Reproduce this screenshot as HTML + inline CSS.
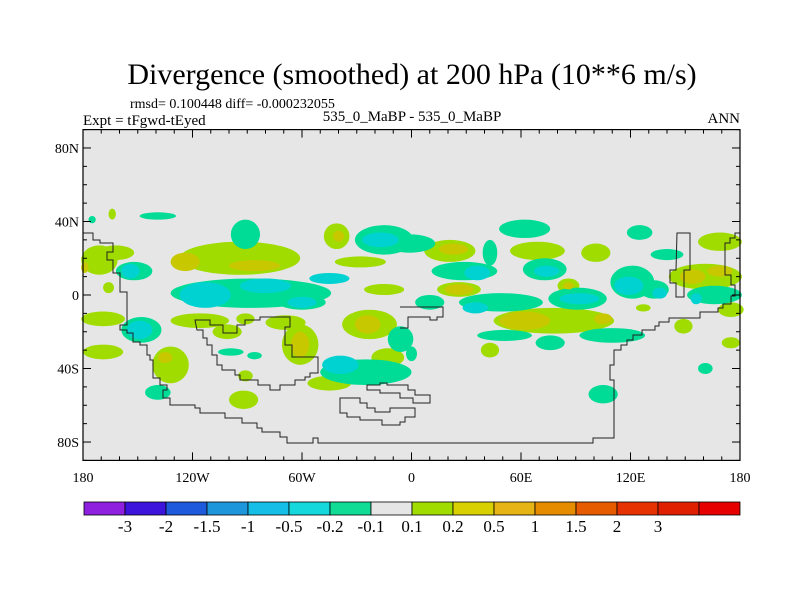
<!DOCTYPE html>
<html><head><meta charset="utf-8"><style>
html,body{margin:0;padding:0;background:#fff;}
svg{display:block;font-family:"Liberation Serif",serif;}
</style></head><body>
<svg id="chart" width="800" height="600" viewBox="0 0 800 600">
<text x="412" y="84" font-size="30" text-anchor="middle">Divergence (smoothed) at 200 hPa (10**6 m/s)</text>
<text x="130" y="108" font-size="14">rmsd= 0.100448 diff= -0.000232055</text>
<text x="83" y="125" font-size="15">Expt = tFgwd-tEyed</text>
<text x="412" y="121" font-size="15" text-anchor="middle">535_0_MaBP - 535_0_MaBP</text>
<text x="740" y="123" font-size="15" text-anchor="end">ANN</text>
<rect x="83" y="129.6" width="657" height="330.8" fill="#e6e6e6"/>
<g id="blobs"></g>
<g fill="none" stroke="#222" stroke-width="1">
<polyline points="83,233 93,233 93,240 100,240 100,243 113,243 113,252 107,252 107,260 113,260 113,273 120,273 120,292 127,292 127,325 120,325 120,330 127,330 127,333 133,333 133,342 140,342 140,345 147,345 147,355 150,355 150,360 153,360 153,378 160,378 160,385 167,385 167,390 163,390 163,398 170,398 170,405 195,405 195,408 200,408 200,413 225,413 225,418 242,418 242,423 257,423 257,428 262,428 262,432 280,432 280,437 287,437 287,443 313,443 313,438 318,438 318,443 593,443 593,438 614,438 614,380 610,380 610,365 614,365 614,350 621,350 621,345 627,345 627,340 633,340 633,335 642,335 642,330 655,330 655,326 659,326 659,322 669,322 669,318 700,318 700,312 718,312 718,308 723,308 723,304 731,304 731,296 735,296 735,285 731,285 731,275 725,275 725,243 730,243 730,238 735,238 735,233 740,233"/>
<polygon points="677,233 690,233 690,270 684,270 684,297 676,297 676,283 670,283 670,270 676,270"/>
<polygon points="195,320 210,320 210,325 223,325 223,333 237,333 237,325 245,325 245,320 260,320 260,317 290,317 290,327 285,327 285,345 292,345 292,357 318,357 318,373 310,373 310,377 305,377 305,380 295,380 295,385 280,385 280,390 270,390 270,385 258,385 258,380 240,380 240,375 235,375 235,370 222,370 222,365 217,365 217,355 212,355 212,345 207,345 207,338 203,338 203,330 197,330"/>
<polyline points="400,307 443,307 443,317 437,317 437,320 430,320 430,317 408,317 408,328 400,328"/>
<polygon points="367,385 380,385 380,383 387,383 387,385 408,385 408,390 415,390 415,395 430,395 430,403 413,403 413,398 400,398 400,393 380,393 380,390 367,390"/>
<polygon points="340,398 360,398 360,403 367,403 367,408 375,408 375,412 390,412 390,408 415,408 415,417 405,417 405,422 400,422 400,425 382,425 382,420 360,420 360,417 347,417 347,413 340,413"/>
</g>
<rect x="83" y="129.6" width="657" height="330.8" fill="none" stroke="#000" stroke-width="1.2"/>
<g id="ticks" stroke="#000" stroke-width="1"></g>
<g id="labels" font-size="14"></g>
<g id="colorbar"></g>
</svg>
<script>
// blobs: lon, lat, lon-radius, lat-radius
const greenLon=[-94,-41,-28,-15,-80,-171,-162,-166,-169,-116,-101,-91,-69,-61,-23,-13,-45,-92,-91,-132,-169,-164,21,69,101,86,26,78,127,43,149,175,161,169,175];
const greenLat=[20,32,18,3,-1,19,23,4,-13,-14,-20,-13,-15,-27,-16,-34,-48,-57,-44,-38,-31,44,24,24,23,5,3,-14,-7,-30,-17,-26,10,29,-8];
const greenRLon=[33,7,14,11,4,10,10,3,12,16,8,5,11,10,15,9,12,8,4,10,11,2,14,15,8,6,12,33,4,5,5,5,20,12,7];
const greenRLat=[9,7,3,3,2,8,4,3,4,4,4,3,4,11,8,5,4,5,3,10,4,3,6,5,5,4,4,7,2,4,4,3,7,5,4];
const yellowLon=[-124,-86,-40,-61,-24,-135,23,26,62,105,154,169,86,-179];
const yellowLat=[18,16,32,-27,-16,-34,25,3,-14,-13,10,13,5,15];
const yellowRLon=[8,14,3,5,7,4,8,8,14,5,7,7,3,2];
const yellowRLat=[5,3,3,7,5,3,3,3,5,3,4,3,2,3];
const tealLon=[-88,-91,-15,-60,-152,-148,-6,-25,-139,-99,-86,-139,-175,-1,62,29,43,73,125,140,121,133,49,10,91,51,76,110,0,105,161,166];
const tealLat=[1,33,30,-4,13,-19,-24,-42,-53,-31,-33,43,41,28,36,13,23,14,34,22,7,3,-4,-4,-2,-22,-26,-22,-32,-54,-40,0];
const tealRLon=[44,8,16,13,10,11,7,25,7,7,4,10,2,14,14,18,4,12,7,9,12,8,23,8,16,15,8,18,3,8,4,15];
const tealRLat=[8,8,8,4,5,7,7,7,4,2,2,2,2,5,5,5,7,6,4,3,9,5,5,4,6,3,4,4,4,5,3,5];
const cyanLon=[-113,-80,-45,-17,-60,-154,-149,-39,36,74,119,136,35,92,156];
const cyanLat=[0,5,9,30,-4,13,-19,-38,12,13,5,1,-7,-2,-2];
const cyanRLon=[14,14,11,10,8,5,7,10,7,7,8,4,7,11,3];
const cyanRLat=[7,4,3,4,3,4,5,5,4,3,5,3,3,3,3];
// colorbar
const cbColors=["#9020e0","#3c14dc","#1e5adc","#1e96dc","#14bee6","#14d8dc","#10dc96","#e6e6e6","#a0dc00","#d8d000","#e6b414","#e68c00","#e65a00","#e63200","#e01e00","#e60000"];
const cbLabels=["-3","-2","-1.5","-1","-0.5","-0.2","-0.1","0.1","0.2","0.5","1","1.5","2","3"];
const latTicks=[80,40,0,-40,-80];
const latTickLabels=["80N","40N","0","40S","80S"];
const lonTicks=[-180,-120,-60,0,60,120,180];
const lonTickLabels=["180","120W","60W","0","60E","120E","180"];

const X0=83,X1=740,Y0=129.6,Y1=460.4;
const xs=lon=>X0+(lon+180)/360*(X1-X0);
const ys=lat=>Y0+(90-lat)/180*(Y1-Y0);
const kx=(X1-X0)/360, ky=(Y1-Y0)/180;
const NS="http://www.w3.org/2000/svg";
const blobs=document.getElementById('blobs');
function draw(lons,lats,rl,rt,color,name){
  for(let i=0;i<lons.length;i++){
    const e=document.createElementNS(NS,'ellipse');
    e.setAttribute('cx',xs(lons[i]));e.setAttribute('cy',ys(lats[i]));
    e.setAttribute('rx',rl[i]*kx);e.setAttribute('ry',rt[i]*ky);
    e.setAttribute('fill',color);
    
    
    blobs.appendChild(e);
  }
}
draw(greenLon,greenLat,greenRLon,greenRLat,"#a0dc00",'positive-contour-fill');
draw(tealLon,tealLat,tealRLon,tealRLat,"#00dc96",'negative-contour-fill');
draw(yellowLon,yellowLat,yellowRLon,yellowRLat,"#c8c800",'strong-positive-contour-fill');
draw(cyanLon,cyanLat,cyanRLon,cyanRLat,"#00d2d2",'strong-negative-contour-fill');

const ticks=document.getElementById('ticks'),labels=document.getElementById('labels');
function line(x1,y1,x2,y2,p){const l=document.createElementNS(NS,'line');l.setAttribute('x1',x1);l.setAttribute('y1',y1);l.setAttribute('x2',x2);l.setAttribute('y2',y2);


p.appendChild(l);}
for(let la=-90;la<=90;la+=10){const y=ys(la);const L=(la%40===0)?8:4;line(X0,y,X0+L,y,ticks);line(X1,y,X1-L,y,ticks);}
for(let lo=-180;lo<=180;lo+=10){const x=xs(lo);const L=(lo%60===0)?8:4;line(x,Y1,x,Y1-L,ticks);line(x,Y0,x,Y0+L,ticks);}
function text(x,y,s,anchor,p,fs){const t=document.createElementNS(NS,'text');t.setAttribute('x',x);t.setAttribute('y',y);t.setAttribute('text-anchor',anchor);if(fs)t.setAttribute('font-size',fs);t.textContent=s;


p.appendChild(t);}
latTicks.forEach((v,i)=>text(X0-4,ys(v)+5,latTickLabels[i],'end',labels));
lonTicks.forEach((v,i)=>text(xs(v),482,lonTickLabels[i],'middle',labels));
const cb=document.getElementById('colorbar');const cx0=84,cw=(740-84)/cbColors.length;
cbColors.forEach((c,i)=>{const r=document.createElementNS(NS,'rect');r.setAttribute('x',cx0+i*cw);r.setAttribute('y',502);r.setAttribute('width',cw);r.setAttribute('height',13);r.setAttribute('fill',c);r.setAttribute('stroke','#000');r.setAttribute('stroke-width','0.8');


cb.appendChild(r);});
cbLabels.forEach((s,i)=>text(cx0+(i+1)*cw,532,s,'middle',cb,17));
</script>
</body></html>
